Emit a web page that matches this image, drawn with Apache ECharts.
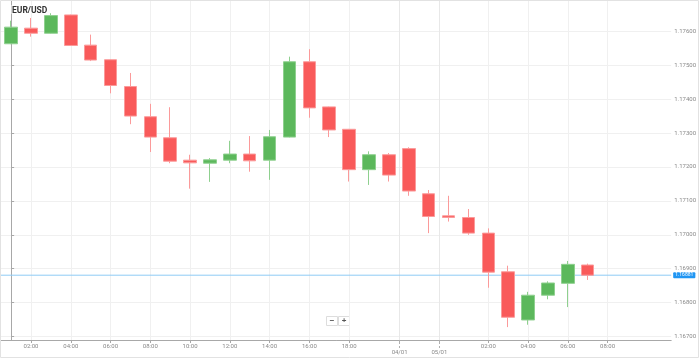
<!DOCTYPE html>
<html><head><meta charset="utf-8">
<script src="https://cdn.jsdelivr.net/npm/echarts@6/dist/echarts.min.js"></script>
<style>html,body{margin:0;padding:0;background:#fff}#c{width:699px;height:359px}</style>
</head><body><div id="c"></div>
<script>
// Hourly EUR/USD candles (index order, left to right)
var opens  = [1.17563,1.17609,1.17594,1.17648,1.17559,1.17516,1.17437,1.17348,1.17286,1.17220,1.17211,1.17220,1.17238,1.17220,1.17288,1.17510,1.17377,1.17311,1.17192,1.17236,1.17254,1.17121,1.17056,1.17051,1.17005,1.16891,1.16749,1.16822,1.16857,1.16911];
var closes = [1.17612,1.17594,1.17646,1.17558,1.17515,1.17440,1.17350,1.17288,1.17217,1.17212,1.17221,1.17238,1.17218,1.17289,1.17510,1.17374,1.17309,1.17192,1.17236,1.17176,1.17129,1.17054,1.17051,1.17005,1.16890,1.16757,1.16822,1.16858,1.16913,1.16881];
var lows   = [1.17562,1.17584,1.17593,1.17557,1.17512,1.17417,1.17326,1.17244,1.17211,1.17136,1.17156,1.17211,1.17186,1.17162,1.17287,1.17345,1.17288,1.17157,1.17147,1.17157,1.17115,1.17005,1.17039,1.17000,1.16844,1.16728,1.16735,1.16810,1.16787,1.16867];
var highs  = [1.17631,1.17639,1.17653,1.17649,1.17590,1.17517,1.17477,1.17386,1.17376,1.17236,1.17226,1.17277,1.17291,1.17309,1.17525,1.17547,1.17378,1.17312,1.17246,1.17241,1.17258,1.17132,1.17115,1.17076,1.17019,1.16909,1.16832,1.16863,1.16923,1.16915];
var lastPrice = 1.16881;

// x-axis ticks (candle index positions) and labels
var xMin = -0.51, xMax = 33.2;
var hourTickPos    = [1,3,5,7,9,11,13,15,17,24,26,28,30];
var hourTickLabels = ['02:00','04:00','06:00','08:00','10:00','12:00','14:00','16:00','18:00','02:00','04:00','06:00','08:00'];
var dateTickPos    = [19.54,21.54];
var dateTickLabels = ['04/01','05/01'];
// y-axis tick labels
var priceTicks = [1.167,1.168,1.169,1.170,1.171,1.172,1.173,1.174,1.175,1.176];

var candleData = opens.map(function(o,i){ return [i, o, closes[i], lows[i], highs[i]]; });

var chart = echarts.init(document.getElementById('c'), null, {renderer:'canvas'});
chart.setOption({
  animation:false,
  backgroundColor:'#fff',
  grid:{left:1, right:23, top:0, bottom:19, containLabel:false},
  xAxis:[{
    type:'value', min:xMin, max:xMax,
    axisLine:{show:true, onZero:false, lineStyle:{color:'#a8a8a8', width:1}},
    axisTick:{show:true, length:3, lineStyle:{color:'#a8a8a8'}, customValues:hourTickPos},
    axisLabel:{show:true, fontSize:6, color:'#888', margin:3, fontFamily:'Roboto',
      customValues:hourTickPos,
      formatter:function(v){ var k = hourTickPos.indexOf(v); return k>=0 ? hourTickLabels[k] : ''; }},
    splitLine:{show:true, lineStyle:{color:'#f0f0f0', width:1}}
  },{
    type:'value', min:xMin, max:xMax, position:'bottom',
    axisLine:{show:false},
    axisTick:{show:true, length:8, lineStyle:{color:'#b0b0b0', type:'dashed'}, customValues:dateTickPos},
    axisLabel:{show:true, fontSize:6, color:'#888', margin:9, fontFamily:'Roboto',
      customValues:dateTickPos,
      formatter:function(v){ var k = dateTickPos.indexOf(v); return k>=0 ? dateTickLabels[k] : ''; }},
    splitLine:{show:true, lineStyle:{color:'#e8e8e8', width:1}}
  }],
  yAxis:{
    type:'value', position:'right', min:1.1669, max:1.17692, scale:true,
    axisLine:{show:true, lineStyle:{color:'#a8a8a8', width:1}},
    axisTick:{show:true, length:3, lineStyle:{color:'#a8a8a8'}, customValues:priceTicks},
    axisLabel:{show:true, fontSize:6, color:'#888', margin:3, fontFamily:'Roboto',
      customValues:priceTicks,
      formatter:function(v){ return v.toFixed(5); }},
    splitLine:{show:true, lineStyle:{color:'#f0f0f0', width:1}}
  },
  series:[{
    type:'line',
    data:[[xMin, lastPrice],[xMax, lastPrice]],
    showSymbol:false, symbol:'none', silent:true,
    lineStyle:{color:'#8ecbf5', width:1},
    itemStyle:{color:'#8ecbf5'},
    z:2,
    endLabel:{show:true, distance:2, formatter:function(){ return lastPrice.toFixed(5); },
      fontSize:5, color:'#fff', backgroundColor:'#2196f3', padding:[1,2,0,2], borderRadius:1, fontFamily:'Roboto'}
  },{
    type:'candlestick',
    data:candleData,
    encode:{x:0, y:[1,2,3,4]},
    barWidth:13,
    z:3,
    itemStyle:{color:'#5cb85c', color0:'#f95a5a', borderColor:'#8fd08f', borderColor0:'#fb9a9a', borderWidth:1}
  }],
  graphic:[
    {type:'rect', shape:{x:0.5, y:0.5, width:698, height:357}, style:{fill:'none', stroke:'#e2e2e2', lineWidth:1}, silent:true, z:100},
    {type:'text', left:11, top:5, z:50, style:{text:'EUR/USD', fontSize:8.5, fontWeight:'bold', fill:'#333', fontFamily:'Roboto', stroke:'#fff', lineWidth:2}},
    {type:'group', left:326, top:316, children:[
      {type:'rect', shape:{x:0, y:0, width:11, height:9}, style:{fill:'#fff', stroke:'#ddd', lineWidth:1}},
      {type:'rect', shape:{x:12, y:0, width:11, height:9}, style:{fill:'#fff', stroke:'#ddd', lineWidth:1}},
      {type:'text', x:5.5, y:4.5, style:{text:'−', fontSize:8, fontWeight:'bold', fill:'#555', align:'center', verticalAlign:'middle'}},
      {type:'text', x:17.5, y:4.5, style:{text:'+', fontSize:8, fontWeight:'bold', fill:'#555', align:'center', verticalAlign:'middle'}}
    ]}
  ]
});
</script></body></html>
